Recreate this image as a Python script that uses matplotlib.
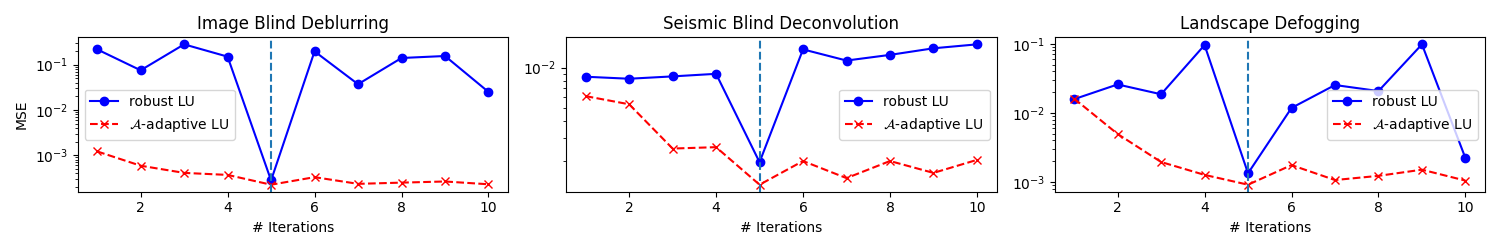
import numpy as np
import matplotlib
matplotlib.use('Agg')
import matplotlib.pyplot as plt

iters = np.arange(1, 11)

titles = ['Image Blind Deblurring', 'Seismic Blind Deconvolution', 'Landscape Defogging']

#%% MSE values per task
robust_deblur = [0.217, 0.075, 0.28, 0.15, 2.8e-4, 0.196, 0.037, 0.14, 0.155, 0.025]
adaptive_deblur = [1.22e-3, 5.9e-4, 4.1e-4, 3.7e-4, 2.25e-4, 3.3e-4, 2.35e-4, 2.5e-4, 2.65e-4, 2.3e-4]

robust_seismic = [8.55e-3, 8.26e-3, 8.6e-3, 8.99e-3, 1.96e-3, 0.0137, 0.0113, 0.01246, 0.01396, 0.01494]
adaptive_seismic = [6.12e-3, 5.32e-3, 2.48e-3, 2.54e-3, 1.33e-3, 2.0e-3, 1.49e-3, 2.0e-3, 1.63e-3, 2.04e-3]

robust_fog = [0.0158, 0.0258, 0.0186, 0.0957, 1.34e-3, 0.0118, 0.0253, 0.0207, 0.098, 2.22e-3]
adaptive_fog = [0.0161, 4.96e-3, 1.95e-3, 1.27e-3, 9.16e-4, 1.76e-3, 1.07e-3, 1.23e-3, 1.51e-3, 1.05e-3]

robust = [robust_deblur, robust_seismic, robust_fog]
adaptive = [adaptive_deblur, adaptive_seismic, adaptive_fog]
legend_loc = ['center left', 'center right', 'center right']

switch_iter = 5

#%% Plot
fig, axes = plt.subplots(1, 3, figsize=(15, 2.5), dpi=100)
for i, ax in enumerate(axes):
    ax.semilogy(iters, robust[i], 'bo-', label='robust LU')
    ax.semilogy(iters, adaptive[i], 'rx--', label=r'$\mathcal{A}$-adaptive LU')
    ax.axvline(switch_iter, color='C0', linestyle='--')
    ax.set_title(titles[i])
    ax.set_xlabel('# Iterations')
    ax.legend(loc=legend_loc[i])
axes[0].set_ylabel('MSE')
plt.tight_layout()
plt.savefig('out.png')
